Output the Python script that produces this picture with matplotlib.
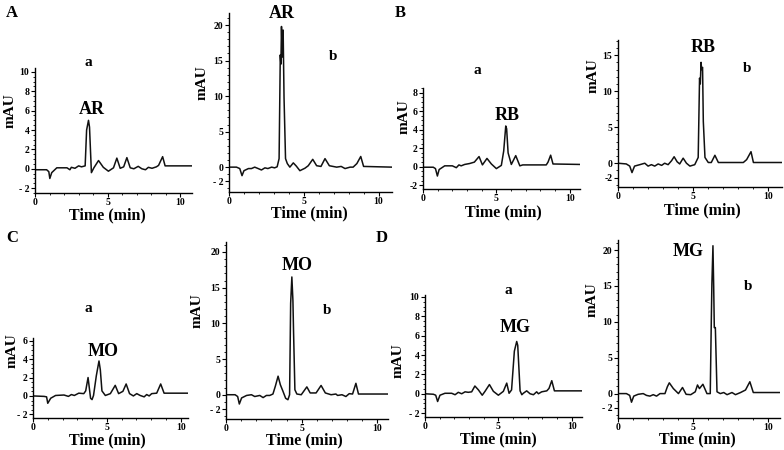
import matplotlib
matplotlib.use("Agg")
import matplotlib.pyplot as plt
from matplotlib.ticker import MultipleLocator

plt.rcParams['font.family'] = ['Liberation Serif', 'DejaVu Serif']
plt.rcParams['font.weight'] = 'bold'

# chromatogram traces: retention time (min) and absorbance (mAU)
A_a_t = [0, 0.8, 0.95, 1.02, 1.15, 1.5, 2.2, 2.4, 2.5, 2.75, 3.0, 3.2, 3.45, 3.55, 3.68, 3.75, 3.88, 4.05,
         4.37, 4.7, 5.05, 5.4, 5.63, 5.86, 6.1, 6.32, 6.55, 6.8, 7.1, 7.35, 7.6, 7.8, 8.05, 8.35, 8.5, 8.78, 8.95, 10.8]
A_a_v = [-0.1, -0.1, -0.3, -1.0, -0.4, 0.1, 0.1, -0.1, 0.15, 0.05, 0.3, 0.2, 0.3, 4.0, 5.0, 4.3, -0.4, 0.1,
         0.85, 0.15, -0.25, 0.1, 1.1, 0.05, 0.2, 1.15, 0.1, 0.0, 0.25, 0.0, -0.1, 0.15, 0.05, 0.2, 0.35, 1.25, 0.3, 0.3]

A_b_t = [0, 0.5, 0.72, 0.87, 1.0, 1.3, 1.5, 1.72, 1.95, 2.17, 2.4, 2.6, 2.85, 3.05, 3.22, 3.35, 3.43, 3.47, 3.51,
         3.56, 3.62, 3.68, 3.78, 3.9, 4.07, 4.3, 4.5, 4.74, 5.08, 5.3, 5.6, 5.86, 6.15, 6.42, 6.71, 7.2, 7.5, 7.76,
         8.1, 8.3, 8.55, 8.81, 9.0, 10.9]
A_b_v = [0, 0, -0.2, -1.2, -0.5, -0.2, -0.2, 0.0, -0.2, -0.4, -0.1, -0.2, 0.0, -0.1, 0.05, 1.2, 15.8, 14.5, 19.8,
         15.5, 19.3, 9.8, 1.2, 0.5, 0.0, 0.6, 0.15, -0.5, -0.15, 0.2, 1.1, 0.2, 0.1, 1.2, 0.2, 0.0, 0.1, -0.2,
         0.0, 0.0, 0.5, 1.5, 0.1, 0.0]

B_a_t = [0, 0.7, 0.85, 0.98, 1.1, 1.48, 2.0, 2.27, 2.45, 2.6, 2.84, 3.18, 3.5, 3.82, 4.05, 4.36, 4.66, 5.0, 5.34,
         5.5, 5.64, 5.7, 5.8, 6.02, 6.32, 6.6, 6.8, 8.4, 8.52, 8.7, 8.86, 10.7]
B_a_v = [-0.05, -0.05, -0.2, -1.0, -0.3, 0.1, 0.1, -0.1, 0.2, 0.1, 0.25, 0.35, 0.5, 1.1, 0.2, 0.9, 0.3, -0.2, 0.15,
         1.7, 4.4, 4.1, 1.5, 0.25, 1.2, 0.1, 0.2, 0.2, 0.5, 1.25, 0.3, 0.25]

B_b_t = [0, 0.55, 0.78, 0.93, 1.1, 1.45, 1.78, 2.0, 2.22, 2.44, 2.67, 2.9, 3.1, 3.33, 3.56, 3.73, 3.93, 4.1, 4.33,
         4.55, 4.78, 5.1, 5.33, 5.42, 5.47, 5.52, 5.56, 5.62, 5.67, 5.78, 6.0, 6.2, 6.44, 6.67, 8.33, 8.55, 8.84,
         9.0, 10.9]
B_b_v = [0, -0.1, -0.4, -1.3, -0.4, -0.2, 0.0, -0.4, -0.2, -0.4, -0.1, -0.3, 0.0, -0.2, 0.35, 0.9, 0.2, -0.1, 0.7,
         0.0, -0.4, -0.2, 0.8, 11.8, 11.0, 14.0, 13.0, 13.3, 5.8, 0.8, 0.1, 0.1, 1.1, 0.1, 0.1, 0.5, 1.6, 0.1, 0.1]

C_a_t = [0, 0.75, 0.92, 1.0, 1.2, 1.53, 2.1, 2.4, 2.6, 2.8, 3.1, 3.44, 3.57, 3.73, 3.9, 4.0, 4.1, 4.29, 4.47,
         4.56, 4.67, 4.9, 5.24, 5.57, 5.8, 6.09, 6.31, 6.54, 6.8, 7.03, 7.26, 7.53, 7.7, 7.87, 8.04, 8.38, 8.65,
         8.88, 10.5]
C_a_v = [0, -0.05, -0.1, -0.8, -0.25, 0.05, 0.1, -0.05, 0.15, 0.05, 0.3, 0.25, 0.55, 2.0, -0.25, -0.4, 0.05, 2.2,
         3.8, 2.85, 0.55, 0.05, 0.25, 1.15, 0.25, 0.5, 1.3, 0.25, 0.0, 0.25, 0.05, -0.1, 0.15, 0.0, 0.25, 0.3, 1.3,
         0.3, 0.3]

C_b_t = [0, 0.6, 0.77, 0.88, 1.03, 1.36, 1.68, 1.9, 2.23, 2.45, 2.67, 2.89, 3.1, 3.26, 3.44, 3.59, 3.76, 3.94,
         4.09, 4.2, 4.27, 4.35, 4.42, 4.46, 4.55, 4.68, 4.97, 5.34, 5.56, 5.95, 6.28, 6.56, 6.94, 7.26, 7.37, 7.66,
         7.92, 8.14, 8.36, 8.58, 8.75, 10.65]
C_b_v = [0, 0, -0.25, -1.3, -0.45, -0.1, 0, -0.25, -0.1, -0.4, -0.1, -0.1, 0.1, 1.2, 2.6, 1.4, 0.5, -0.5, -0.7,
         0, 12.8, 16.5, 13.2, 9.0, 0.7, 0.1, 0, 1.1, 0.25, 0.25, 1.3, 0.25, 0, 0.1, -0.1, 0, -0.25, 0.15, 0.1,
         1.6, 0.1, 0.1]

D_a_t = [0, 0.57, 0.73, 0.86, 1.02, 1.36, 1.82, 2.05, 2.27, 2.5, 2.73, 2.95, 3.18, 3.4, 3.64, 3.9, 4.09, 4.39,
         4.66, 5.0, 5.34, 5.57, 5.73, 5.9, 6.09, 6.25, 6.32, 6.48, 6.6, 6.7, 6.93, 7.16, 7.39, 7.61, 7.73, 7.95,
         8.3, 8.45, 8.64, 8.82, 10.7]
D_a_v = [0, -0.05, -0.15, -0.8, -0.15, 0.05, 0.05, -0.1, 0.15, 0, 0.2, 0.15, 0.2, 0.8, 0.4, -0.15, 0.25, 0.95,
         0.25, -0.15, 0.25, 1.1, 0.05, 0.4, 4.4, 5.4, 5.0, 0.3, -0.1, 0.05, 0.3, 0, -0.1, 0.2, 0, 0.2, 0.3, 0.55,
         1.35, 0.3, 0.3]

D_b_t = [0, 0.56, 0.78, 0.9, 1.05, 1.34, 1.68, 1.9, 2.13, 2.35, 2.57, 2.8, 3.13, 3.29, 3.42, 3.69, 4.03, 4.3,
         4.54, 4.85, 5.15, 5.3, 5.43, 5.66, 5.93, 6.15, 6.22, 6.26, 6.33, 6.38, 6.42, 6.49, 6.6, 6.82, 7.05, 7.27,
         7.6, 7.83, 8.17, 8.5, 8.79, 9.02, 10.8]
D_b_v = [0, 0, -0.25, -1.2, -0.35, -0.1, 0, -0.25, -0.35, -0.15, -0.35, 0, 0, 0.95, 1.5, 0.7, 0, 0.85, -0.1,
         -0.15, 0.25, 1.2, 0.7, 1.3, 0, 0, 10.1, 15.3, 20.6, 14.8, 9.2, 9.2, 0.25, 0, 0.15, -0.15, 0.15, -0.15,
         0.15, 0.5, 1.65, 0.15, 0.15]

yticks_small10 = [-2, 0, 2, 4, 6, 8, 10]
yticks_small8 = [-2, 0, 2, 4, 6, 8]
yticks_small6 = [-2, 0, 2, 4, 6]
yticks_big20 = [-2, 0, 5, 10, 15, 20]
yticks_big15 = [-2, 0, 5, 10, 15]
xticks = [0, 5, 10]

W, H = 784, 450
fig = plt.figure(figsize=(W / 100, H / 100), dpi=100)


def px(x, y):
    return x / W, 1 - y / H


# (t, v, left, top, right, bottom, xmax, ylim, yticks, minus label, minor step)
panels = [
    (A_a_t, A_a_v, 35, 68, 192, 193, 10.8, (-2.5, 10.4), yticks_small10, '- 2', 0.5),
    (A_b_t, A_b_v, 229, 13, 392, 192, 10.9, (-3.5, 21.7), yticks_big20, '- 2', 1),
    (B_a_t, B_a_v, 423, 88, 580, 189, 10.7, (-2.4, 8.5), yticks_small8, '-2', 0.5),
    (B_b_t, B_b_v, 618, 40, 782, 187, 10.9, (-3.3, 17.1), yticks_big15, '-2', 1),
    (C_a_t, C_a_v, 33, 338, 188, 418, 10.5, (-2.4, 6.3), yticks_small6, '- 2', 0.5),
    (C_b_t, C_b_v, 226, 242, 388, 419, 10.7, (-3.4, 21.4), yticks_big20, '- 2', 1),
    (D_a_t, D_a_v, 425, 295, 582, 417, 10.7, (-2.4, 10.2), yticks_small10, '- 2', 0.5),
    (D_b_t, D_b_v, 618, 240, 780, 418, 10.8, (-3.4, 21.4), yticks_big20, '- 2', 1),
]

for t, v, l, tp, r, b, xmax, ylim, yt, mlab, minor in panels:
    ax = fig.add_axes([l / W, 1 - b / H, (r - l) / W, (b - tp) / H])
    ax.plot(t, v, color='#111111', lw=1.1)
    ax.set_xlim(0, xmax)
    ax.set_ylim(*ylim)
    ax.spines['top'].set_visible(False)
    ax.spines['right'].set_visible(False)
    ax.spines['left'].set_linewidth(1.0)
    ax.spines['bottom'].set_linewidth(1.0)
    ax.set_xticks(xticks)
    ax.set_xticklabels([str(x) for x in xticks])
    ax.set_yticks(yt)
    ax.set_yticklabels([mlab if y < 0 else str(y) for y in yt])
    ax.yaxis.set_minor_locator(MultipleLocator(minor))
    ax.xaxis.set_minor_locator(MultipleLocator(1))
    ax.tick_params(labelsize=7, length=3, width=0.8, pad=1)
    ax.tick_params(axis='x', pad=0.5)
    ax.tick_params(which='minor', length=1.5, width=0.6)
    for lab in ax.get_xticklabels() + ax.get_yticklabels():
        lab.set_fontweight('bold')
    ax.patch.set_alpha(0)

# panel letters, sub-labels, peak names
texts = [
    ('A', 12, 13, 12), ('B', 400, 13, 12), ('C', 12, 238, 12), ('D', 382, 238, 12),
    ('a', 88, 62, 11), ('b', 333, 57, 11), ('a', 477, 70, 11), ('b', 747, 68, 11),
    ('a', 88, 308, 11), ('b', 327, 310, 11), ('a', 508, 290, 11), ('b', 748, 287, 11),
    ('AR', 92, 109, 13), ('AR', 282, 13, 13), ('RB', 507, 115, 13), ('RB', 703, 48, 13),
    ('MO', 103, 352, 13), ('MO', 297, 265, 13), ('MG', 515, 327, 13), ('MG', 688, 252, 13),
]
for s, x, y, fs in texts:
    fx, fy = px(x, y)
    fig.text(fx, fy, s, fontsize=fs, fontweight='bold', ha='center', va='center')

# y-axis labels
for x, y in [(10, 111), (202, 83), (404, 117), (593, 76), (12, 351), (197, 311), (398, 361), (592, 300)]:
    fx, fy = px(x, y)
    fig.text(fx, fy, 'mAU', fontsize=11, fontweight='bold', rotation=90, ha='center', va='center')

# x-axis labels
for x, y in [(107, 215), (309, 213), (503, 212), (702, 210), (107, 440), (304, 440), (498, 439), (697, 439)]:
    fx, fy = px(x, y)
    fig.text(fx, fy, 'Time (min)', fontsize=11.5, fontweight='bold', ha='center', va='center')

fig.savefig('out.png', dpi=100, facecolor='white')
